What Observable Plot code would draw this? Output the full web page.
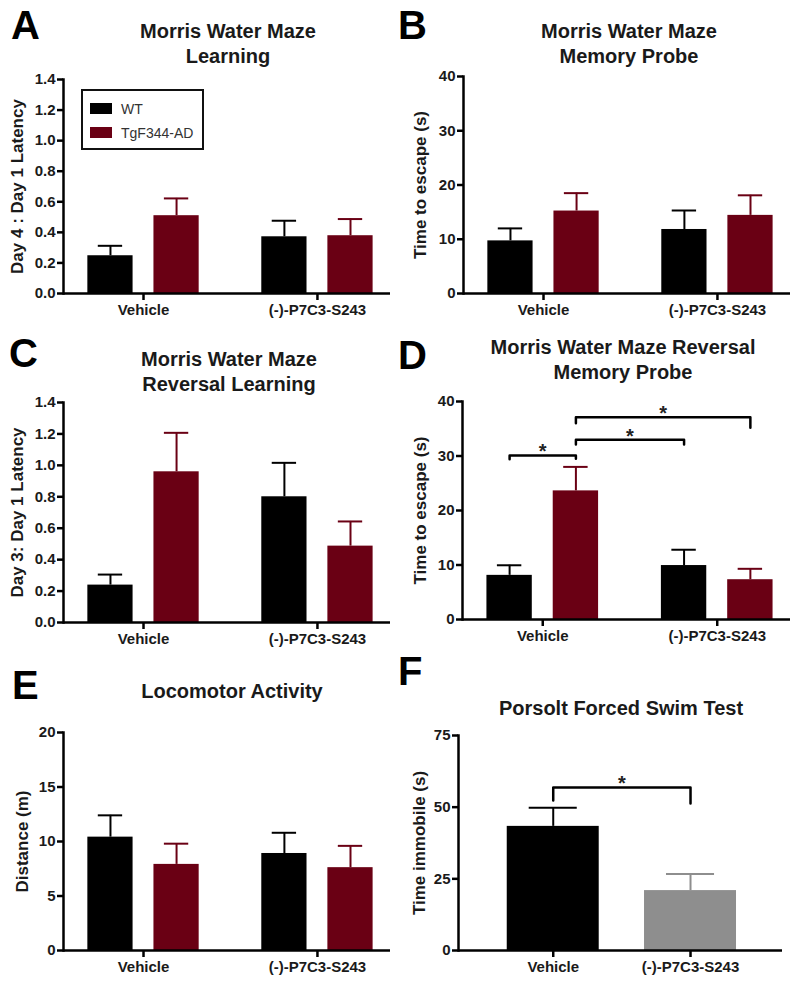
<!DOCTYPE html>
<html>
<head>
<meta charset="utf-8">
<script src="https://cdn.jsdelivr.net/npm/d3@7"></script>
<script src="https://cdn.jsdelivr.net/npm/@observablehq/plot@0.6"></script>
<style>
  html, body { margin: 0; padding: 0; background: #fff; }
  #fig { position: relative; width: 800px; height: 982px; overflow: hidden; font-family: "Liberation Sans", Arial, sans-serif; color: #1a1a1a; }
  .panel { position: absolute; width: 400px; }
  .panel svg { position: absolute; left: 0; top: 0; overflow: visible; }
  .letter { position: absolute; font-size: 40px; line-height: 40px; font-weight: bold; color: #000; }
  .title { position: absolute; width: 400px; text-align: center; font-size: 20px; line-height: 25px; font-weight: bold; color: #1a1a1a; white-space: nowrap; }
  .legend { position: absolute; box-sizing: border-box; border: 2px solid #111; background: #fff; font-size: 14px; color: #333; }
  .legend .row { position: absolute; left: 0; height: 14px; line-height: 14px; white-space: nowrap; }
  .legend .sw { position: absolute; left: 7px; top: 1px; width: 22px; height: 11px; }
  .legend .lab { position: absolute; left: 38px; top: 0; }
</style>
</head>
<body>
<div id="fig"></div>
<script>
// ---------- shared categories ----------
const categories = ["Vehicle", "(-)-P7C3-S243"];
const genotypes = ["WT", "TgF344-AD"];
const genotypeColors = ["#000000", "#6a0014"];

// ---------- A: Morris Water Maze Learning ----------
const learnWT = [0.247, 0.371];
const learnWTsem = [0.065, 0.105];
const learnTg = [0.509, 0.378];
const learnTgsem = [0.113, 0.109];
const latencyTicks = [0, 0.2, 0.4, 0.6, 0.8, 1.0, 1.2, 1.4];

// ---------- B: Morris Water Maze Memory Probe ----------
const probeWT = [9.7, 11.8];
const probeWTsem = [2.3, 3.5];
const probeTg = [15.2, 14.4];
const probeTgsem = [3.3, 3.7];
const escapeTicks = [0, 10, 20, 30, 40];

// ---------- C: Reversal Learning ----------
const revLearnWT = [0.238, 0.80];
const revLearnWTsem = [0.067, 0.216];
const revLearnTg = [0.959, 0.486];
const revLearnTgsem = [0.248, 0.157];

// ---------- D: Reversal Memory Probe ----------
const revProbeWT = [8.1, 9.9];
const revProbeWTsem = [1.85, 2.9];
const revProbeTg = [23.6, 7.3];
const revProbeTgsem = [4.4, 2.0];
const revProbeSigFrom = [["Vehicle", "WT"], ["Vehicle", "TgF344-AD"], ["Vehicle", "TgF344-AD"]];
const revProbeSigTo = [["Vehicle", "TgF344-AD"], ["(-)-P7C3-S243", "WT"], ["(-)-P7C3-S243", "TgF344-AD"]];
const revProbeSigY = [30.1, 33.0, 37.1];
const revProbeSigFromEnd = [29.4, 32.1, 36.0];
const revProbeSigToEnd = [29.5, 32.1, 35.2];
const revProbeSigText = ["*", "*", "*"];

// ---------- E: Locomotor Activity ----------
const locoWT = [10.4, 8.9];
const locoWTsem = [2.0, 1.9];
const locoTg = [7.9, 7.6];
const locoTgsem = [1.9, 2.0];
const distanceTicks = [0, 5, 10, 15, 20];

// ---------- F: Porsolt Forced Swim Test ----------
const swimGroups = ["Vehicle", "(-)-P7C3-S243"];
const swimColors = ["#000000", "#8e8e8e"];
const swimMean = [43.3, 20.9];
const swimSem = [6.5, 5.8];
const immobileTicks = [0, 25, 50, 75];
const swimSigFrom = ["Vehicle"];
const swimSigTo = ["(-)-P7C3-S243"];
const swimSigY = [56.9];
const swimSigFromEnd = [52.3];
const swimSigToEnd = [51.3];
const swimSigText = ["*"];

// ---------- layout helpers (positions of bars within a category) ----------
const genoOffset = {"WT": -0.19, "TgF344-AD": 0.19};
function posOf(cat, geno) {
  return categories.indexOf(cat) + (geno ? genoOffset[geno] : 0);
}
function grouped(wt, wtSem, tg, tgSem) {
  const rows = [];
  categories.forEach((c, i) => {
    rows.push({cat: c, group: "WT", mean: wt[i], sem: wtSem[i], pos: posOf(c, "WT")});
    rows.push({cat: c, group: "TgF344-AD", mean: tg[i], sem: tgSem[i], pos: posOf(c, "TgF344-AD")});
  });
  return rows;
}
function bracketData(from, to, ys, fromEnd, toEnd, texts, withGeno) {
  const pts = [], labels = [];
  ys.forEach((y, i) => {
    const x1 = withGeno ? posOf(from[i][0], from[i][1]) : posOf(from[i]);
    const x2 = withGeno ? posOf(to[i][0], to[i][1]) : posOf(to[i]);
    pts.push({id: i, x: x1, y: fromEnd[i]}, {id: i, x: x1, y}, {id: i, x: x2, y}, {id: i, x: x2, y: toEnd[i]});
    labels.push({x: (x1 + x2) / 2, y, text: texts[i]});
  });
  return {pts, labels};
}

const fig = document.getElementById("fig");

function makePanel(cfg) {
  const div = document.createElement("div");
  div.className = "panel";
  div.style.left = cfg.left + "px";
  div.style.top = cfg.top + "px";
  div.style.height = cfg.height + "px";
  fig.appendChild(div);

  const marks = [
    Plot.rectY(cfg.data, {x1: d => d.pos - cfg.barHalf, x2: d => d.pos + cfg.barHalf, y: "mean", fill: "group"}),
    Plot.ruleX(cfg.data, {x: "pos", y1: "mean", y2: d => d.mean + d.sem, stroke: "group", strokeWidth: 2}),
    Plot.ruleY(cfg.data, {y: d => d.mean + d.sem, x1: d => d.pos - cfg.capHalf, x2: d => d.pos + cfg.capHalf, stroke: "group", strokeWidth: 2}),
    Plot.ruleY([0], {stroke: "#000", strokeWidth: 2.5}),
    Plot.frame({anchor: "left", stroke: "#000", strokeWidth: 2.5}),
    Plot.axisY({ticks: cfg.yTicks, tickFormat: cfg.yFormat, tickSize: 6, tickPadding: 2, strokeWidth: 2.5, stroke: "#000", fontSize: 15, label: null}),
    Plot.axisY({ticks: [], label: cfg.yLabel, labelAnchor: "center", labelOffset: cfg.labelOffset, labelArrow: "none", fontSize: 17}),
    Plot.axisX({ticks: [0, 1], tickFormat: i => categories[i], tickSize: 7, tickPadding: 4, strokeWidth: 2.5, stroke: "#000", fontSize: 15, label: null})
  ];
  if (cfg.brackets) {
    marks.push(Plot.line(cfg.brackets.pts, {x: "x", y: "y", z: "id", stroke: "#000", strokeWidth: 2.5}));
    marks.push(Plot.text(cfg.brackets.labels, {x: "x", y: "y", text: "text", lineAnchor: "bottom", dy: 3, fontSize: 20, fill: "#222"}));
  }
  const svg = Plot.plot({
    width: 400,
    height: cfg.height,
    marginTop: cfg.m[0], marginRight: cfg.m[1], marginBottom: cfg.m[2], marginLeft: cfg.m[3],
    style: {fontFamily: "'Liberation Sans', Arial, sans-serif", fontWeight: "bold", color: "#1a1a1a", background: "transparent", overflow: "visible"},
    x: {domain: cfg.xDomain},
    y: {domain: cfg.yDomain},
    color: {domain: cfg.colorDomain, range: cfg.colorRange},
    marks
  });
  div.appendChild(svg);

  const letter = document.createElement("div");
  letter.className = "letter";
  letter.textContent = cfg.letter;
  letter.style.left = cfg.letterPos[0] + "px";
  letter.style.top = cfg.letterPos[1] + "px";
  div.appendChild(letter);

  const title = document.createElement("div");
  title.className = "title";
  title.innerHTML = cfg.title.join("<br>");
  title.style.left = (cfg.titlePos[0] - 200) + "px";
  title.style.top = cfg.titlePos[1] + "px";
  div.appendChild(title);
  return div;
}

const fmt1 = d3.format(".1f");
const fmt0 = d3.format("d");
const xDom = [-0.46, 1.42];

const pA = makePanel({
  left: 0, top: 0, height: 330, m: [79, 10, 37, 63],
  data: grouped(learnWT, learnWTsem, learnTg, learnTgsem),
  xDomain: xDom, yDomain: [0, 1.4], yTicks: latencyTicks, yFormat: fmt1,
  yLabel: "Day 4 : Day 1 Latency", labelOffset: 53,
  barHalf: 0.13, capHalf: 0.07, colorDomain: genotypes, colorRange: genotypeColors,
  letter: "A", letterPos: [11, 5], title: ["Morris Water Maze", "Learning"], titlePos: [228, 19]
});
// legend for panel A
const legend = document.createElement("div");
legend.className = "legend";
Object.assign(legend.style, {left: "81px", top: "89px", width: "123px", height: "61px"});
genotypes.forEach((g, i) => {
  const row = document.createElement("div");
  row.className = "row";
  row.style.top = (11 + i * 24) + "px";
  row.style.width = "100%";
  const sw = document.createElement("div");
  sw.className = "sw";
  sw.style.background = genotypeColors[i];
  const lab = document.createElement("div");
  lab.className = "lab";
  lab.textContent = g;
  row.appendChild(sw); row.appendChild(lab);
  legend.appendChild(row);
});
pA.appendChild(legend);

makePanel({
  left: 400, top: 0, height: 330, m: [76, 10, 37, 63],
  data: grouped(probeWT, probeWTsem, probeTg, probeTgsem),
  xDomain: xDom, yDomain: [0, 40], yTicks: escapeTicks, yFormat: fmt0,
  yLabel: "Time to escape (s)", labelOffset: 50,
  barHalf: 0.13, capHalf: 0.07, colorDomain: genotypes, colorRange: genotypeColors,
  letter: "B", letterPos: [-2, 5], title: ["Morris Water Maze", "Memory Probe"], titlePos: [229, 19]
});

makePanel({
  left: 0, top: 330, height: 330, m: [72, 10, 38, 63],
  data: grouped(revLearnWT, revLearnWTsem, revLearnTg, revLearnTgsem),
  xDomain: xDom, yDomain: [0, 1.4], yTicks: latencyTicks, yFormat: fmt1,
  yLabel: "Day 3: Day 1 Latency", labelOffset: 53,
  barHalf: 0.13, capHalf: 0.07, colorDomain: genotypes, colorRange: genotypeColors,
  letter: "C", letterPos: [9, 3], title: ["Morris Water Maze", "Reversal Learning"], titlePos: [229, 17]
});

makePanel({
  left: 400, top: 330, height: 330, m: [71, 10, 41, 62],
  data: grouped(revProbeWT, revProbeWTsem, revProbeTg, revProbeTgsem),
  xDomain: xDom, yDomain: [0, 40], yTicks: escapeTicks, yFormat: fmt0,
  yLabel: "Time to escape (s)", labelOffset: 49,
  barHalf: 0.13, capHalf: 0.07, colorDomain: genotypes, colorRange: genotypeColors,
  brackets: bracketData(revProbeSigFrom, revProbeSigTo, revProbeSigY, revProbeSigFromEnd, revProbeSigToEnd, revProbeSigText, true),
  letter: "D", letterPos: [-2, 5], title: ["Morris Water Maze Reversal", "Memory Probe"], titlePos: [223, 5]
});

makePanel({
  left: 0, top: 660, height: 322, m: [72, 10, 32, 63],
  data: grouped(locoWT, locoWTsem, locoTg, locoTgsem),
  xDomain: xDom, yDomain: [0, 20], yTicks: distanceTicks, yFormat: fmt0,
  yLabel: "Distance (m)", labelOffset: 48,
  barHalf: 0.13, capHalf: 0.07, colorDomain: genotypes, colorRange: genotypeColors,
  letter: "E", letterPos: [12, 5], title: ["Locomotor Activity"], titlePos: [232, 19]
});

makePanel({
  left: 400, top: 660, height: 322, m: [75, 18, 32, 58],
  data: swimGroups.map((g, i) => ({cat: g, group: g, mean: swimMean[i], sem: swimSem[i], pos: posOf(g)})),
  xDomain: [-0.69, 1.67], yDomain: [0, 75], yTicks: immobileTicks, yFormat: fmt0,
  yLabel: "Time immobile (s)", labelOffset: 46,
  barHalf: 0.335, capHalf: 0.175, colorDomain: swimGroups, colorRange: swimColors,
  brackets: bracketData(swimSigFrom, swimSigTo, swimSigY, swimSigFromEnd, swimSigToEnd, swimSigText, false),
  letter: "F", letterPos: [-2, -9], title: ["Porsolt Forced Swim Test"], titlePos: [221, 36]
});
</script>
</body>
</html>
